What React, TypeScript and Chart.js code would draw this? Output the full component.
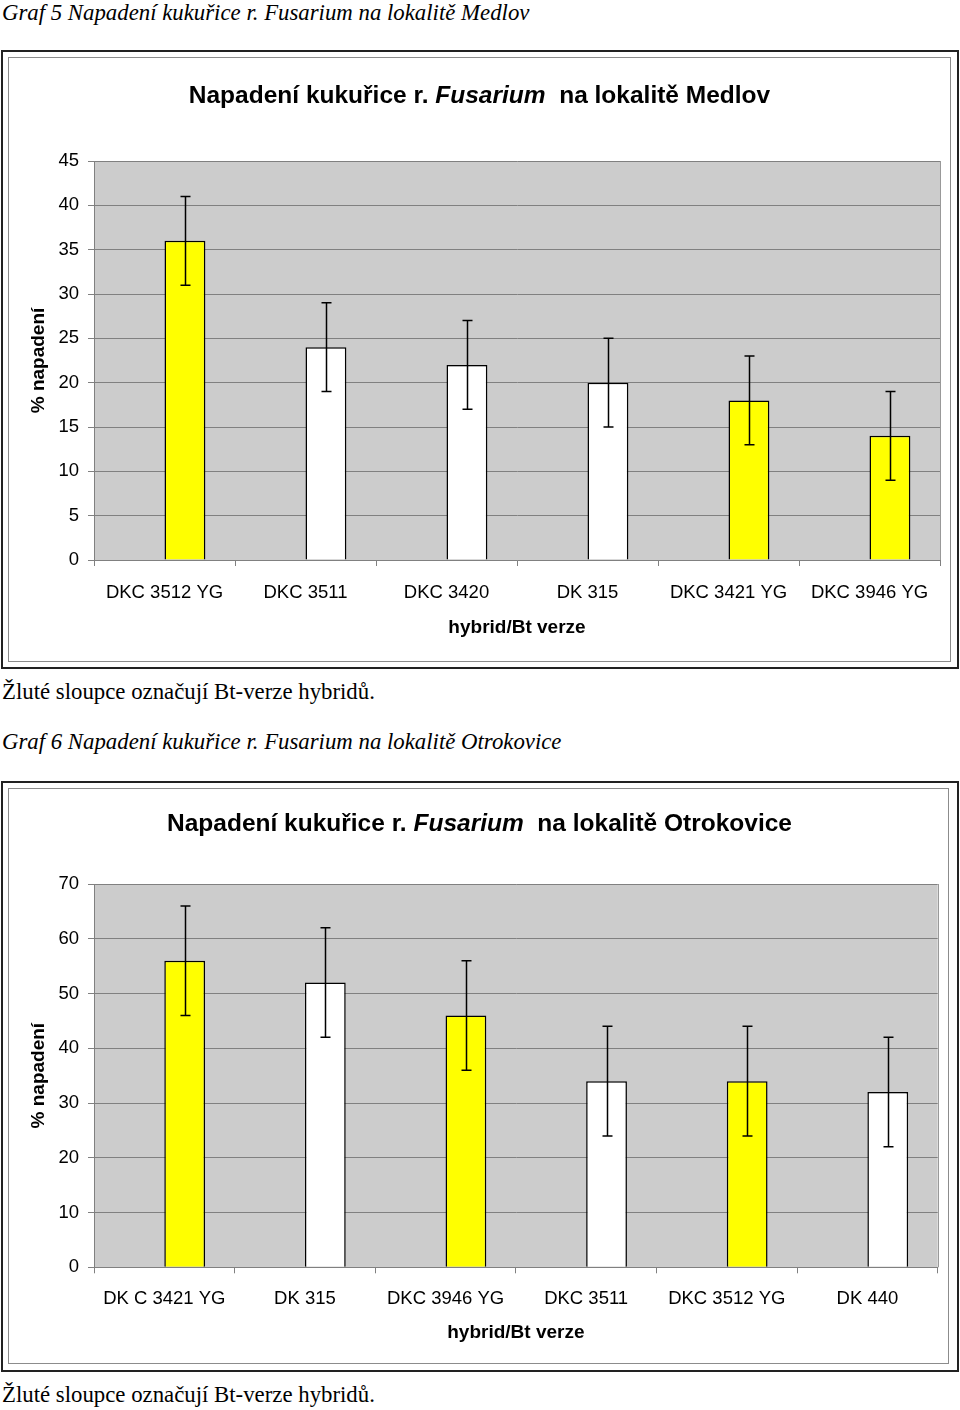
import React, { useEffect, useRef } from 'react';
import { Chart, registerables } from 'chart.js';

Chart.register(...registerables);

// ---------- data ----------
const medlovHybrids = ['DKC 3512 YG', 'DKC 3511', 'DKC 3420', 'DK 315', 'DKC 3421 YG', 'DKC 3946 YG'];
const medlovValues = [36, 24, 22, 20, 18, 14];
const medlovErrors = [5, 5, 5, 5, 5, 5];
const medlovBt = [true, false, false, false, true, true];
const medlovYMax = 45;
const medlovYStep = 5;

const otrokoviceHybrids = ['DK C 3421 YG', 'DK 315', 'DKC 3946 YG', 'DKC 3511', 'DKC 3512 YG', 'DK 440'];
const otrokoviceValues = [56, 52, 46, 34, 34, 32];
const otrokoviceErrors = [10, 10, 10, 10, 10, 10];
const otrokoviceBt = [true, false, true, false, true, false];
const otrokoviceYMax = 70;
const otrokoviceYStep = 10;

const yAxisTitle = '% napadení';
const xAxisTitle = 'hybrid/Bt verze';
const footnote = 'Žluté sloupce označují Bt-verze hybridů.';

const SANS = '"Liberation Sans", Arial, sans-serif';
const SERIF = '"Liberation Serif", "Times New Roman", serif';
const BT_COLOR = '#FFFF00';
const PLAIN_COLOR = '#FFFFFF';
const GRID = '#808080';

const plotPlugin = {
  id: 'plotDecor',
  beforeDraw(chart: any) {
    const { ctx, chartArea: a } = chart;
    ctx.save();
    ctx.fillStyle = '#CCCCCC';
    ctx.fillRect(a.left, a.top, a.right - a.left, a.bottom - a.top);
    ctx.restore();
  },
  afterDatasetsDraw(chart: any) {
    const { ctx, chartArea: a } = chart;
    ctx.save();
    // right border of plot area
    ctx.strokeStyle = '#999999';
    ctx.lineWidth = 1;
    ctx.beginPath();
    ctx.moveTo(Math.round(a.right) + 0.5, a.top);
    ctx.lineTo(Math.round(a.right) + 0.5, a.bottom);
    ctx.stroke();
    // error bars
    const yScale = chart.scales.y;
    chart.data.datasets.forEach((ds: any, di: number) => {
      const errs: number[] | undefined = ds.errors;
      if (!errs) return;
      const meta = chart.getDatasetMeta(di);
      meta.data.forEach((el: any, i: number) => {
        const v = ds.data[i];
        const e = errs[i];
        if (e == null || v == null) return;
        const x = Math.round(el.x) + 0.5;
        const yT = yScale.getPixelForValue(v + e);
        const yB = yScale.getPixelForValue(v - e);
        ctx.strokeStyle = '#000000';
        ctx.lineWidth = 1.5;
        ctx.beginPath();
        ctx.moveTo(x, yT);
        ctx.lineTo(x, yB);
        ctx.moveTo(x - 5, yT);
        ctx.lineTo(x + 5, yT);
        ctx.moveTo(x - 5, yB);
        ctx.lineTo(x + 5, yB);
        ctx.stroke();
      });
    });
    ctx.restore();
  },
};

type ChartProps = {
  labels: string[];
  values: number[];
  errors: number[];
  bt: boolean[];
  yMax: number;
  yStep: number;
  width: number;
  height: number;
  areaTop: number;
  yWidth: number;
  padRight: number;
  xHeight: number;
  xLabelPad: number;
  xTitlePad: number;
  yTitlePad: number;
};

function BarChart(p: ChartProps) {
  const ref = useRef<HTMLCanvasElement | null>(null);
  useEffect(() => {
    if (!ref.current) return;
    const chart = new Chart(ref.current, {
      type: 'bar',
      data: {
        labels: p.labels,
        datasets: [
          // empty leading series (as in the original spreadsheet chart) – it keeps the bars right of centre
          {
            data: p.labels.map(() => null),
            backgroundColor: 'rgba(0,0,0,0)',
            borderWidth: 0,
            barPercentage: 1,
            categoryPercentage: 0.58,
          } as any,
          {
            data: p.values,
            errors: p.errors,
            backgroundColor: p.bt.map((b) => (b ? BT_COLOR : PLAIN_COLOR)),
            borderColor: '#000000',
            borderWidth: 1.5,
            barPercentage: 1,
            categoryPercentage: 0.58,
          } as any,
        ],
      },
      options: {
        animation: false,
        responsive: false,
        maintainAspectRatio: false,
        devicePixelRatio: 1,
        layout: { padding: { top: p.areaTop, right: p.padRight, left: 0, bottom: 0 } },
        plugins: { legend: { display: false }, tooltip: { enabled: false }, title: { display: false } },
        scales: {
          x: {
            grid: {
              display: true,
              offset: true,
              drawOnChartArea: false,
              drawTicks: true,
              tickLength: 6,
              color: GRID,
            },
            border: { display: true, color: GRID, width: 1 },
            ticks: {
              color: '#000000',
              font: { family: SANS, size: 18.5 },
              padding: p.xLabelPad,
              maxRotation: 0,
              autoSkip: false,
            },
            title: {
              display: true,
              text: xAxisTitle,
              color: '#000000',
              font: { family: SANS, size: 19, weight: 'bold' },
              padding: { top: 0, bottom: p.xTitlePad },
            },
            afterFit(scale: any) {
              scale.height = p.xHeight;
            },
          },
          y: {
            min: 0,
            max: p.yMax,
            ticks: {
              stepSize: p.yStep,
              color: '#000000',
              font: { family: SANS, size: 18.5 },
              padding: 9,
            },
            grid: { color: GRID, lineWidth: 1, drawTicks: true, tickLength: 6 },
            border: { display: true, color: GRID, width: 1 },
            title: {
              display: true,
              text: yAxisTitle,
              color: '#000000',
              font: { family: SANS, size: 19, weight: 'bold' },
              padding: { top: p.yTitlePad, bottom: 0 },
            },
            afterFit(scale: any) {
              scale.width = p.yWidth;
            },
          },
        },
      } as any,
      plugins: [plotPlugin],
    });
    return () => chart.destroy();
  }, []);
  return <canvas ref={ref} width={p.width} height={p.height} style={{ display: 'block', width: p.width, height: p.height }} />;
}

const abs = (l: number, t: number, w?: number, h?: number): React.CSSProperties => ({
  position: 'absolute',
  left: l,
  top: t,
  width: w,
  height: h,
  boxSizing: 'border-box',
});

function Title({ top, place }: { top: number; place: string }) {
  return (
    <div
      style={{
        ...abs(8, top, 943, 30),
        textAlign: 'center',
        fontFamily: SANS,
        fontWeight: 'bold',
        fontSize: 24.5,
        lineHeight: '30px',
        color: '#000',
        whiteSpace: 'nowrap',
      }}
    >
      Napadení kukuřice r. <i>Fusarium</i>&nbsp; na lokalitě {place}
    </div>
  );
}

const captionStyle = (top: number, italic: boolean): React.CSSProperties => ({
  ...abs(2, top),
  fontFamily: SERIF,
  fontStyle: italic ? 'italic' : 'normal',
  fontSize: 22.8,
  lineHeight: '22.8px',
  whiteSpace: 'nowrap',
  color: '#000',
});

export default function App() {
  return (
    <div style={{ position: 'absolute', left: 0, top: 0, width: 960, height: 1410, background: '#fff', overflow: 'hidden' }}>
      <div style={captionStyle(2, true)}>Graf 5 Napadení kukuřice r. Fusarium na lokalitě Medlov</div>

      <div style={{ ...abs(1, 50, 958, 619), border: '2px solid #222' }} />
      <div style={abs(8, 57)}>
        <BarChart
          labels={medlovHybrids}
          values={medlovValues}
          errors={medlovErrors}
          bt={medlovBt}
          yMax={medlovYMax}
          yStep={medlovYStep}
          width={943}
          height={605}
          areaTop={104}
          yWidth={86}
          padRight={11}
          xHeight={102}
          xLabelPad={16}
          xTitlePad={23}
          yTitlePad={19}
        />
      </div>
      <div style={{ ...abs(8, 57, 943, 605), border: '1px solid #8c8c8c' }} />
      <Title top={80} place="Medlov" />

      <div style={captionStyle(681, false)}>{footnote}</div>
      <div style={captionStyle(731, true)}>Graf 6 Napadení kukuřice r. Fusarium na lokalitě Otrokovice</div>

      <div style={{ ...abs(1, 781, 958, 591), border: '2px solid #222' }} />
      <div style={abs(8, 788)}>
        <BarChart
          labels={otrokoviceHybrids}
          values={otrokoviceValues}
          errors={otrokoviceErrors}
          bt={otrokoviceBt}
          yMax={otrokoviceYMax}
          yStep={otrokoviceYStep}
          width={941}
          height={576}
          areaTop={96}
          yWidth={86}
          padRight={11.3}
          xHeight={96.7}
          xLabelPad={14.6}
          xTitlePad={20}
          yTitlePad={19}
        />
      </div>
      <div style={{ ...abs(8, 788, 941, 576), border: '1px solid #8c8c8c' }} />
      <Title top={808} place="Otrokovice" />

      <div style={captionStyle(1384, false)}>{footnote}</div>
    </div>
  );
}
